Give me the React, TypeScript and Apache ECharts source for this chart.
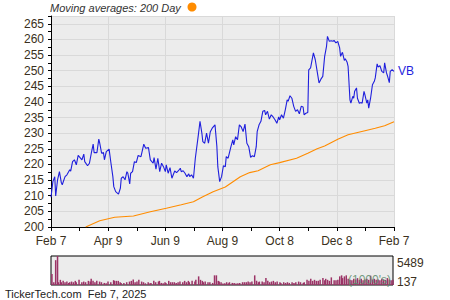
import React, { useEffect, useRef } from "react";
import * as echarts from "echarts";

// x values are calendar days since Feb 7, 2024
const xTickLabels = ["Feb 7", "Apr 9", "Jun 9", "Aug 9", "Oct 8", "Dec 8", "Feb 7"];

const pricePoints: [number, number][] = [
  [0, 209.5], [2, 214.5], [4, 216.1], [5, 209.9], [7, 215.1], [9, 217.7], [11, 214.2], [12, 213.5],
  [15, 216.1], [17, 216.7], [20, 218.3], [21, 217.9], [23, 220.9], [25, 221.5], [27, 219.9], [29, 222.9],
  [31, 222.2], [33, 221.5], [35, 223.3], [36, 220.9], [39, 219.6], [41, 220.4], [43, 223.6], [45, 226.5],
  [46, 223.8], [49, 223.8], [51, 228.1], [52, 226.8], [54, 223.6], [56, 223.8], [57, 221.5], [59, 224.1],
  [62, 224.9], [64, 220.4], [66, 216.1], [67, 212.9], [69, 211.3], [72, 210.5], [74, 212.4], [75, 215.6],
  [77, 216.1], [79, 215.1], [81, 217.7], [82, 217.2], [84, 213.8], [85, 217.2], [87, 217.7], [89, 220.9],
  [91, 220.6], [93, 222.9], [96, 222.5], [99, 226.5], [101, 225.2], [104, 225.4], [106, 221.5], [109, 220.4],
  [110, 222.2], [112, 218.5], [114, 222.0], [116, 217.7], [118, 220.4], [120, 219.3], [122, 217.7], [123, 219.9],
  [125, 217.2], [127, 219.0], [129, 215.6], [132, 217.9], [134, 217.4], [136, 218.0], [138, 218.8], [139, 217.7],
  [141, 218.0], [143, 217.2], [145, 216.1], [147, 217.0], [148, 216.1], [150, 216.7], [152, 215.6], [154, 222.0],
  [157, 228.9], [159, 233.8], [161, 230.0], [162, 227.3], [164, 226.8], [166, 230.0], [168, 226.8], [170, 230.5],
  [172, 231.6], [175, 232.7], [177, 225.7], [178, 219.3], [180, 214.5], [182, 216.1], [184, 219.6], [186, 219.3],
  [187, 222.5], [189, 222.0], [192, 225.7], [194, 227.9], [195, 226.3], [197, 228.9], [199, 227.9], [201, 232.7],
  [203, 232.0], [205, 230.5], [207, 232.9], [209, 226.8], [211, 225.7], [213, 222.3], [215, 222.8], [217, 222.5],
  [219, 225.7], [220, 230.5], [222, 232.7], [224, 233.8], [226, 237.0], [228, 237.3], [229, 235.9], [231, 237.0],
  [233, 234.5], [235, 235.9], [237, 235.2], [239, 234.3], [241, 233.2], [243, 235.2], [244, 234.3], [246, 235.9],
  [248, 234.8], [250, 237.5], [252, 240.7], [253, 240.2], [255, 242.0], [257, 241.2], [259, 238.6], [261, 237.0],
  [263, 237.5], [265, 236.2], [267, 238.6], [269, 238.4], [270, 235.9], [272, 236.4], [274, 236.6], [275, 250.3],
  [277, 250.9], [280, 255.7], [282, 253.5], [284, 249.8], [286, 246.1], [288, 247.3], [290, 248.2], [292, 254.6],
  [294, 257.8], [295, 261.0], [297, 259.4], [299, 259.6], [301, 259.4], [302, 259.7], [304, 258.9], [306, 259.4],
  [308, 257.3], [309, 254.6], [311, 255.9], [313, 253.3], [314, 253.8], [316, 252.7], [317, 251.4], [319, 240.7],
  [320, 239.6], [322, 241.8], [323, 241.2], [324, 243.4], [326, 244.5], [327, 241.2], [329, 239.6], [331, 239.8],
  [332, 239.6], [334, 243.4], [335, 242.3], [337, 239.6], [338, 240.7], [339, 238.0], [341, 241.2], [343, 245.5],
  [345, 246.6], [346, 247.7], [348, 252.2], [349, 251.2], [351, 251.6], [353, 249.8], [355, 249.3], [356, 252.5],
  [358, 249.3], [359, 248.4], [361, 246.2], [362, 249.8], [364, 250.3], [366, 249.8],
];

const ma200Points: [number, number][] = [
  [37, 200.0], [52, 202.0], [68, 203.1], [88, 203.5], [106, 204.9], [123, 206.0], [139, 207.1], [152, 208.1],
  [162, 209.7], [173, 211.3], [186, 212.8], [202, 216.1], [212, 217.4], [221, 218.0], [234, 219.9], [244, 220.6],
  [262, 222.0], [274, 223.6], [284, 225.0], [292, 225.9], [306, 228.1], [317, 229.5], [335, 230.8], [346, 231.6],
  [356, 232.4], [366, 233.7],
];

// volume in thousands
const volumePoints: [number, number][] = [
  [1, 2180], [3, 650], [5, 4720], [7, 5489], [8, 650], [10, 1090], [11, 650], [13, 900], [15, 650], [17, 770],
  [19, 520], [20, 650], [22, 770], [24, 650], [26, 900], [27, 650], [30, 1090], [33, 650], [35, 770], [37, 650],
  [40, 900], [42, 770], [43, 1280], [45, 900], [47, 650], [49, 900], [52, 770], [54, 650], [57, 520], [59, 450],
  [61, 770], [64, 650], [67, 1030], [68, 900], [70, 900], [72, 900], [74, 650], [75, 520], [78, 520], [81, 650],
  [84, 770], [86, 900], [88, 1160], [90, 650], [92, 770], [94, 1090], [97, 770], [99, 650], [101, 450], [104, 650],
  [106, 450], [107, 520], [110, 900], [112, 650], [115, 770], [116, 900], [118, 520], [120, 450], [122, 650], [123, 520],
  [126, 900], [128, 650], [130, 650], [132, 650], [134, 520], [136, 650], [138, 770], [141, 650], [143, 900], [145, 650],
  [147, 900], [148, 650], [151, 900], [154, 770], [155, 1090], [158, 1730], [160, 1090], [162, 900], [163, 650], [165, 770],
  [168, 650], [170, 650], [173, 520], [175, 1920], [177, 1920], [179, 900], [180, 770], [182, 650], [184, 400], [186, 450],
  [188, 650], [190, 450], [191, 650], [194, 520], [196, 520], [198, 400], [200, 450], [202, 520], [205, 650], [207, 650],
  [209, 650], [211, 770], [213, 650], [215, 770], [218, 1920], [220, 900], [222, 650], [223, 770], [226, 770], [228, 650],
  [230, 1410], [232, 900], [234, 650], [236, 770], [238, 900], [240, 650], [242, 770], [245, 650], [246, 520], [249, 650],
  [251, 520], [253, 650], [255, 520], [258, 650], [260, 520], [262, 650], [265, 770], [267, 650], [270, 520], [271, 650],
  [274, 1090], [276, 900], [278, 1280], [280, 900], [282, 1090], [284, 900], [286, 900], [288, 1090], [291, 1410], [293, 1030],
  [294, 1280], [296, 1090], [298, 900], [300, 1540], [303, 1030], [305, 1030], [307, 1090], [309, 1730], [311, 1920], [312, 1410],
  [314, 1730], [316, 1920], [318, 1280], [320, 1090], [322, 1030], [324, 1280], [326, 1160], [328, 1410], [330, 1090], [332, 1280],
  [334, 1030], [336, 1160], [338, 1280], [340, 1090], [342, 1860], [344, 1160], [346, 1280], [348, 1090], [350, 1160], [352, 1030],
  [354, 1280], [356, 1160], [358, 1090], [360, 1410], [362, 1160], [364, 1030], [366, 1090],
];

const volMax = Math.max(...volumePoints.map((p) => p[1]));
const volMin = 137;

const FONT = "Liberation Sans, Arial, sans-serif";
const LABEL_COLOR = "#3a3020";
const BLUE = "#1f1fdd";
const ORANGE = "#ff8c00";

export default function App() {
  const ref = useRef<HTMLDivElement>(null);
  useEffect(() => {
    const chart = echarts.init(ref.current!, null, { renderer: "svg" });
    const option: any = {
      animation: false,
      textStyle: { fontFamily: FONT },
      grid: [
        { left: 51, top: 16, width: 343, height: 211, show: true, backgroundColor: "#ececec", borderWidth: 0 },
        { left: 51, top: 256, width: 342, height: 29, show: true, backgroundColor: "#ececec", borderColor: "#000", borderWidth: 1 },
      ],
      xAxis: [
        {
          type: "value", gridIndex: 0, min: 0, max: 366, interval: 61,
          axisLine: { show: true, lineStyle: { color: "#000", width: 1 } },
          axisTick: { show: true, length: 4, lineStyle: { color: "#000" } },
          minorTick: { show: true, splitNumber: 2, length: 4, lineStyle: { color: "#000" } },
          splitLine: { show: true, lineStyle: { color: "#d9d9d9", width: 1 } },
          axisLabel: {
            color: LABEL_COLOR, fontSize: 12, fontFamily: FONT, margin: 8,
            formatter: (v: number) => xTickLabels[Math.round(v / 61)] ?? "",
          },
        },
        { type: "value", gridIndex: 1, min: 0, max: 366, show: false },
      ],
      yAxis: [
        {
          type: "value", gridIndex: 0, min: 200, max: 267.5, interval: 5,
          axisLine: { show: true, lineStyle: { color: "#000", width: 1 } },
          axisTick: { show: true, length: 3, lineStyle: { color: "#000" } },
          minorTick: { show: true, splitNumber: 2, length: 3, lineStyle: { color: "#000" } },
          splitLine: { show: true, lineStyle: { color: "#d9d9d9", width: 1 } },
          axisLabel: { color: LABEL_COLOR, fontSize: 12, fontFamily: FONT, margin: 7, showMaxLabel: false },
        },
        {
          type: "value", gridIndex: 1, position: "right", min: volMin, max: volMax, interval: volMax - volMin,
          axisLine: { show: false }, axisTick: { show: false }, splitLine: { show: false },
          axisLabel: {
            margin: 4,
            formatter: (v: number) => (v >= volMax ? `{top|${v}}` : `{bot|${v}}`),
            rich: {
              top: { color: LABEL_COLOR, fontSize: 12, fontFamily: FONT, padding: [14, 0, 0, 0] },
              bot: { color: LABEL_COLOR, fontSize: 12, fontFamily: FONT, padding: [0, 0, 6, 0] },
            },
          },
        },
      ],
      series: [
        {
          name: "200 Day", type: "line", xAxisIndex: 0, yAxisIndex: 0, data: ma200Points,
          showSymbol: false, symbol: "none", lineStyle: { color: ORANGE, width: 1.1 }, clip: true,
        },
        {
          name: "VB", type: "line", xAxisIndex: 0, yAxisIndex: 0, data: pricePoints,
          showSymbol: false, symbol: "none", lineStyle: { color: BLUE, width: 1.1 }, clip: true,
          endLabel: { show: true, formatter: "VB", color: BLUE, fontSize: 12, fontFamily: FONT, distance: 4 },
        },
        {
          name: "Volume", type: "bar", xAxisIndex: 1, yAxisIndex: 1, data: volumePoints,
          barWidth: 1.5, itemStyle: { color: "#9b3366" },
        },
      ],
      graphic: [
        {
          type: "text", x: 50, y: 8,
          style: { text: "Moving averages: 200 Day", fill: "#333", fontSize: 11, fontStyle: "italic", fontFamily: FONT, verticalAlign: "middle" },
        },
        { type: "circle", x: 192, y: 7, shape: { cx: 0, cy: 0, r: 4.5 }, style: { fill: ORANGE } },
        {
          type: "text", x: 391, y: 280, z: 100,
          style: { text: "(1000's)", fill: "#5b8a6b", fontSize: 12, fontFamily: FONT, align: "right", verticalAlign: "middle", opacity: 0.85 },
        },
        {
          type: "text", x: 5, y: 294,
          style: { text: "TickerTech.com  Feb 7, 2025", fill: "#222", fontSize: 11, fontFamily: FONT, verticalAlign: "middle" },
        },
      ],
    };
    chart.setOption(option);
    return () => chart.dispose();
  }, []);
  return <div ref={ref} style={{ position: "absolute", left: 0, top: 0, width: 450, height: 300 }} />;
}
